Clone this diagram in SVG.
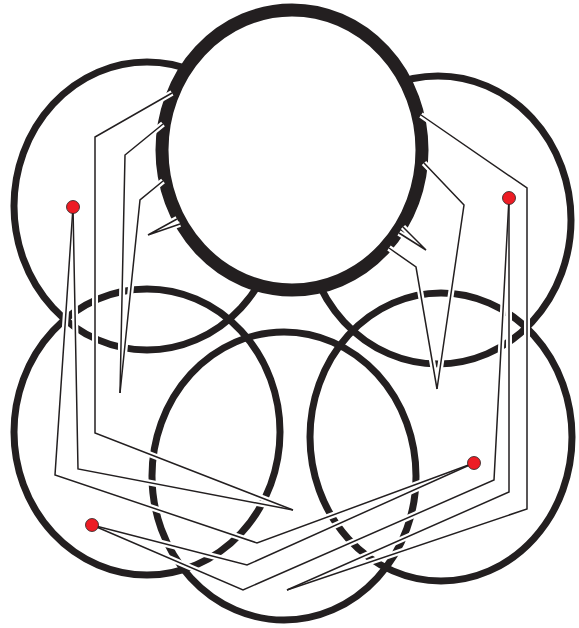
<svg xmlns="http://www.w3.org/2000/svg" width="579" height="628" viewBox="0 0 579 628">
<style>
.c{fill:none;stroke:#231f20;stroke-width:7}
.ring{fill:#fff;stroke:#231f20;stroke-width:13}
.halo{fill:none;stroke:#fff;stroke-width:6;stroke-linejoin:miter;stroke-linecap:butt}
.ln{fill:none;stroke:#231f20;stroke-width:1.5;stroke-linejoin:miter;stroke-linecap:butt}
.dot{fill:#ed1c24;stroke:#231f20;stroke-width:0.8}
</style>
<rect width="579" height="628" fill="#fff"/>
<g id="circle-upper-left"><ellipse class="c" cx="147" cy="206" rx="133" ry="144"/></g>
<g id="circle-upper-right"><ellipse class="c" cx="438" cy="220" rx="133" ry="144"/></g>
<g id="circle-lower-left"><ellipse class="c" cx="147" cy="432" rx="133" ry="143"/></g>
<g id="circle-lower-right"><ellipse class="c" cx="441" cy="437" rx="131" ry="144"/></g>
<g id="circle-bottom"><ellipse class="c" cx="284" cy="476" rx="132" ry="144"/></g>
<g id="circle-top"><ellipse class="ring" cx="292" cy="150" rx="130" ry="140"/></g>
<g id="connectors">
<defs>
<g id="leaders">
<polyline points="73,207 55,475 257,543 474,463"/>
<polyline points="474,463 247,565 92,525"/>
<polyline points="92,525 243,590 494,480 509,198"/>
<polyline points="73,207 78,469 293,510"/>
<polyline points="172,93 95,137 95,433 293,510"/>
<polyline points="509,198 509,492 287,590"/>
<polyline points="421,115 527,188 527,509 287,590"/>
<polyline points="163,124 125,155 120,393"/>
<polyline points="163,181 140,200 120,393"/>
<polyline points="177,219 148,235 180,224"/>
<polyline points="424,163 464,205 437,389"/>
<polyline points="389,248 416,267 437,389"/>
<polyline points="403,227 426,250 399,233"/>
</g>
</defs>
<use href="#leaders" class="halo"/>
<use href="#leaders" class="ln"/>
</g>
<g id="dot-1"><circle class="dot" cx="73" cy="207" r="6.5"/></g>
<g id="dot-2"><circle class="dot" cx="92" cy="525" r="6.5"/></g>
<g id="dot-3"><circle class="dot" cx="509" cy="198" r="6.5"/></g>
<g id="dot-4"><circle class="dot" cx="474" cy="463" r="6.5"/></g>
</svg>
